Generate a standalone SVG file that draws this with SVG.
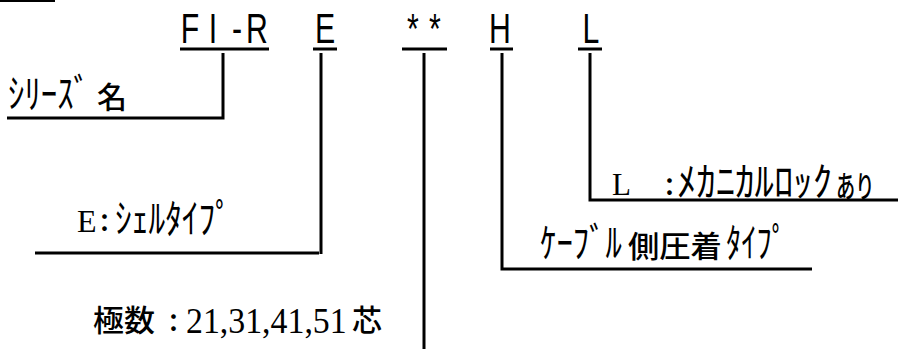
<svg xmlns="http://www.w3.org/2000/svg" width="898" height="349" viewBox="0 0 898 349">
<style>
.code{font-family:"Liberation Sans","DejaVu Sans",sans-serif;font-size:42px;fill:#000;text-anchor:middle}
.jp{font-family:"Noto Sans CJK JP",sans-serif;font-size:30px;font-weight:500;fill:#000}
.kana{font-family:"Noto Sans CJK JP",sans-serif;font-size:40px;font-weight:400;fill:#000}
.ser{font-family:"Liberation Serif","Noto Sans CJK JP",serif;fill:#000}
.ln{stroke:#000;stroke-width:3;fill:none}
</style>
<rect x="0" y="0" width="55" height="2" fill="#000"/>
<g id="code">
<text class="code" transform="translate(190,43) scale(0.72,1)">F</text>
<text class="code" transform="translate(213,43) scale(0.72,1)">I</text>
<text class="code" transform="translate(237,43) scale(0.72,1)">-</text>
<text class="code" transform="translate(257,43) scale(0.72,1)">R</text>
<text class="code" transform="translate(325,43) scale(0.72,1)">E</text>
<text class="code" transform="translate(413,43) scale(0.72,1)">*</text>
<text class="code" transform="translate(435,43) scale(0.72,1)">*</text>
<text class="code" transform="translate(500,43) scale(0.72,1)">H</text>
<text class="code" transform="translate(591,43) scale(0.72,1)">L</text>
<line class="ln" x1="180" y1="49" x2="269" y2="49"/>
<line class="ln" x1="313" y1="49" x2="337" y2="49"/>
<line class="ln" x1="402" y1="49" x2="447" y2="49"/>
<line class="ln" x1="490" y1="49" x2="513" y2="49"/>
<line class="ln" x1="578" y1="49" x2="602" y2="49"/>
</g>
<g id="connectors">
<polyline class="ln" points="223,53 223,118 7,118"/>
<polyline class="ln" points="321,53 321,254"/>
<line class="ln" x1="35" y1="253" x2="319" y2="253"/>
<line class="ln" x1="424" y1="53" x2="424" y2="349"/>
<polyline class="ln" points="502,53 502,269 812,269"/>
<polyline class="ln" points="590,53 590,200 898,200"/>
</g>
<g id="series">
<text class="kana" transform="translate(8,108) scale(0.82,1)">ｼﾘｰｽﾞ</text>
<text class="jp" x="97" y="108">名</text>
</g>
<g id="shell">
<text class="ser" x="77" y="232" font-size="32">E</text>
<text class="jp" x="100" y="231">:</text>
<text class="kana" transform="translate(115,233) scale(0.836,1)">ｼｪﾙﾀｲﾌﾟ</text>
</g>
<g id="poles">
<text class="jp" transform="translate(93,331) scale(1.033,1)">極数</text>
<text class="jp" x="169" y="331">:</text>
<text class="ser" font-size="36" transform="translate(186,333) scale(0.94,1)">21,31,41,51</text>
<text class="jp" x="352" y="331">芯</text>
</g>
<g id="cable">
<text class="kana" transform="translate(540,257) scale(0.82,1)">ｹｰﾌﾞﾙ</text>
<text class="jp" transform="translate(628,257) scale(1.044,1)">側圧着</text>
<text class="kana" transform="translate(726,257) scale(0.7625,1)">ﾀｲﾌﾟ</text>
</g>
<g id="lock">
<text class="ser" x="612" y="195" font-size="31">L</text>
<text class="jp" x="665" y="195">:</text>
<text class="kana" transform="translate(677,196) scale(0.969,1)">ﾒｶﾆｶﾙﾛｯｸ</text>
<text class="jp" font-size="36" transform="translate(836,197) scale(0.64,1)">あり</text>
</g>
</svg>
